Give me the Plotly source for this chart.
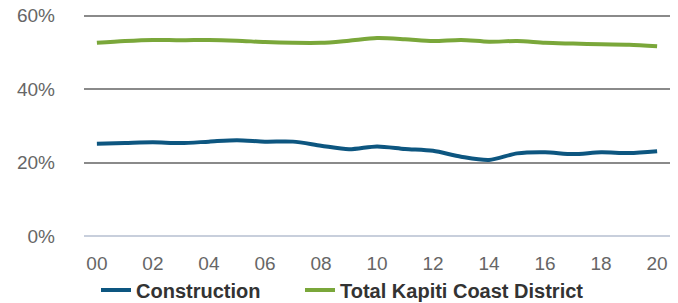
import plotly.graph_objects as go

years = list(range(0, 21))
construction = [25.1, 25.3, 25.5, 25.3, 25.7, 26.1, 25.7, 25.7, 24.6, 23.6, 24.4, 23.7, 23.2, 21.6, 20.7, 22.5, 22.8, 22.3, 22.8, 22.6, 23.1]
total = [52.6, 53.1, 53.4, 53.3, 53.4, 53.2, 52.8, 52.6, 52.6, 53.2, 53.9, 53.6, 53.1, 53.4, 52.9, 53.1, 52.6, 52.4, 52.2, 52.1, 51.7]
tick_vals = list(range(0, 21, 2))
tick_text = ["00", "02", "04", "06", "08", "10", "12", "14", "16", "18", "20"]
y_ticks = [0, 20, 40, 60]
y_text = ["0%", "20%", "40%", "60%"]

fig = go.Figure()
fig.add_trace(go.Scatter(x=years, y=construction, name="Construction", mode="lines",
                         legend="legend",
                         line=dict(color="#0d5680", width=4, shape="spline", smoothing=0.8)))
fig.add_trace(go.Scatter(x=years, y=total, name="Total Kapiti Coast District", mode="lines",
                         legend="legend2",
                         line=dict(color="#7aa73a", width=4, shape="spline", smoothing=0.8)))

leg_common = dict(orientation="h", xref="container", yref="container",
                  xanchor="left", y=(303 - 290) / 303, yanchor="middle",
                  bgcolor="rgba(0,0,0,0)",
                  font=dict(size=20, color="#333333", weight="bold"))

fig.update_layout(
    width=678, height=303,
    margin=dict(l=84, r=8, t=12.3, b=67, autoexpand=False),
    paper_bgcolor="white", plot_bgcolor="white",
    font=dict(family="Liberation Sans, Arial, sans-serif", color="#666666", size=19),
    showlegend=True,
    legend=dict(x=96 / 678, **leg_common),
    legend2=dict(x=300 / 678, **leg_common),
)
fig.update_xaxes(range=[-0.46, 20.46], tickvals=tick_vals, ticktext=tick_text,
                 showgrid=False, zeroline=False, showline=False, ticks="",
                 ticklabelstandoff=14,
                 tickfont=dict(size=19, color="#666666"))
fig.update_yaxes(range=[0, 61], tickvals=y_ticks, ticktext=y_text,
                 showgrid=True, gridcolor="#8a8a8a", gridwidth=1.5,
                 zeroline=True, zerolinecolor="#c8cfdc", zerolinewidth=2,
                 showline=False, ticks="", ticklabelstandoff=28,
                 tickfont=dict(size=19, color="#666666"))

fig.write_html("out.html", config={"displayModeBar": False},
               post_script="document.body.style.margin='0';")
